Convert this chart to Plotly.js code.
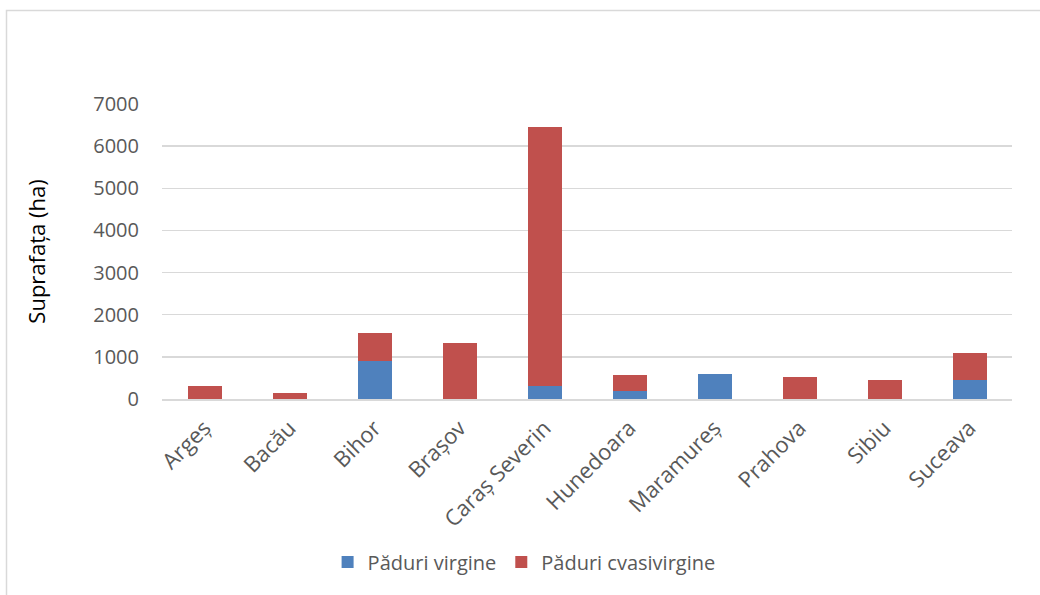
<!DOCTYPE html>
<html>
<head>
<meta charset="utf-8">
<script src="https://cdn.plot.ly/plotly-3.0.1.min.js"></script>
<style>html,body{margin:0;padding:0;background:#fff;}#chart{width:1040px;height:595px;}</style>
</head>
<body>
<div id="chart"></div>
<script>
const judete = ["Argeș","Bacău","Bihor","Brașov","Caraș Severin","Hunedoara","Maramureș","Prahova","Sibiu","Suceava"];
const paduriVirgine = [0,0,905,0,310,183,605,0,0,462];
const paduriCvasivirgine = [310,145,652,1319,6150,397,0,517,445,626];
const yTicks = [0,1000,2000,3000,4000,5000,6000,7000];

const FONT = "Open Sans, Liberation Sans, sans-serif";
const TXT = "#595959";

const traces = [
  {type:"bar", name:"Păduri virgine", x:judete, y:paduriVirgine, marker:{color:"#4f81bd"}},
  {type:"bar", name:"Păduri cvasivirgine", x:judete, y:paduriCvasivirgine, marker:{color:"#c0504d"}}
];

const layout = {
  width:1040, height:595,
  margin:{l:162, r:28, t:104, b:196, pad:0},
  paper_bgcolor:"#fff", plot_bgcolor:"#fff",
  barmode:"stack", bargap:0.6,
  font:{family:FONT, color:TXT, size:20},
  showlegend:true,
  legend:{orientation:"h", x:0.426, xanchor:"center", y:-0.5525, yanchor:"middle",
          font:{family:FONT, size:20, color:TXT}, traceorder:"normal"},
  xaxis:{type:"category", tickangle:-45, showgrid:false, showline:true, linecolor:"#d9d9d9", linewidth:1.5,
         ticks:"", ticklabelstandoff:6, tickfont:{family:FONT, size:22, color:TXT}, zeroline:false, fixedrange:true},
  yaxis:{range:[0,7000], tickvals:yTicks, showgrid:true, gridcolor:"#d9d9d9", gridwidth:1.5,
         zeroline:false, showline:false, ticks:"", ticklabelstandoff:22,
         tickfont:{family:FONT, size:20, color:TXT},
         title:{text:"Suprafața (ha)", font:{family:FONT, size:22, color:"#000"}, standoff:41}},
  shapes:[{type:"rect", xref:"paper", yref:"paper",
           x0:(6.5-162)/850, x1:1.3, y0:-1.2, y1:(399-10.5)/295,
           line:{color:"#d9d9d9", width:1.5}, fillcolor:"rgba(0,0,0,0)", layer:"below"}]
};

Plotly.newPlot("chart", traces, layout, {displayModeBar:false, staticPlot:true});
</script>
</body>
</html>
